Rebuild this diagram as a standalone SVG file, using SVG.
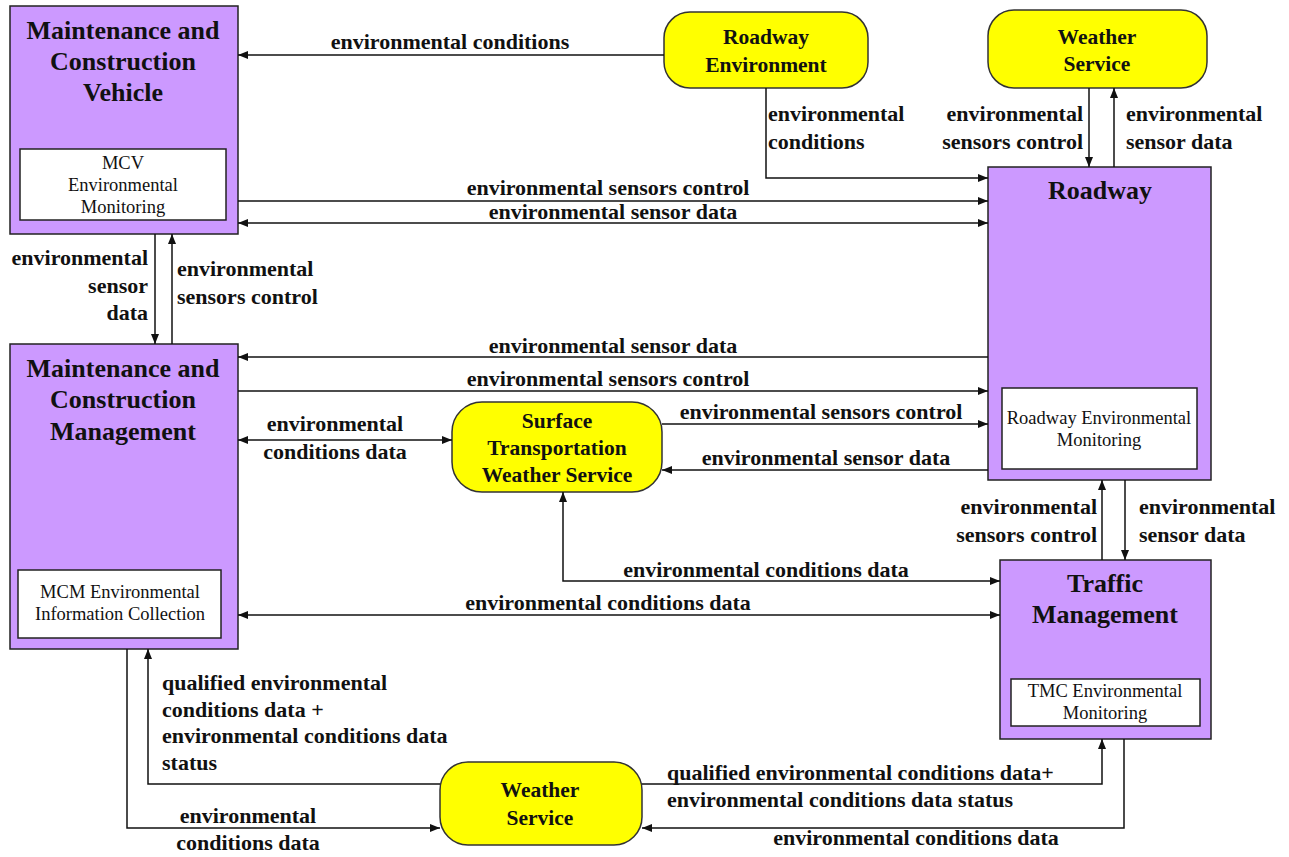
<svg xmlns="http://www.w3.org/2000/svg" width="1289" height="857" viewBox="0 0 1289 857">
<defs>
<marker id="ah" viewBox="0 0 10 10" refX="10" refY="5" markerWidth="10" markerHeight="10" markerUnits="userSpaceOnUse" orient="auto-start-reverse">
<path d="M0,1 L10,5 L0,9 z" fill="#111"/>
</marker>
<style>
.box{fill:#cc99ff;stroke:#222;stroke-width:1.5}
.inner{fill:#fff;stroke:#222;stroke-width:1.5}
.ell{fill:#ffff00;stroke:#333;stroke-width:1.5}
.c{fill:none;stroke:#111;stroke-width:1.5}
.a{marker-end:url(#ah)}
.b{marker-start:url(#ah);marker-end:url(#ah)}
</style>
</defs>

<g id="mcv">
<rect class="box" x="10" y="6" width="228" height="228"/>
<g font-family="Liberation Serif" font-weight="bold" font-size="26" fill="#111" text-anchor="middle">
<text font-family="Liberation Serif" x="123" y="39">Maintenance and</text>
<text font-family="Liberation Serif" x="123" y="70">Construction</text>
<text font-family="Liberation Serif" x="123" y="101">Vehicle</text>
</g>
<rect class="inner" x="20" y="149" width="206" height="71"/>
<g font-family="Liberation Serif" font-size="18.5" fill="#111" text-anchor="middle">
<text font-family="Liberation Serif" x="123" y="169">MCV</text>
<text font-family="Liberation Serif" x="123" y="191">Environmental</text>
<text font-family="Liberation Serif" x="123" y="213">Monitoring</text>
</g>
</g>

<g id="roadway-environment">
<rect class="ell" x="664" y="12" width="204" height="76" rx="26"/>
<g font-family="Liberation Serif" font-weight="bold" font-size="21.5" fill="#111" text-anchor="middle">
<text font-family="Liberation Serif" x="766" y="44">Roadway</text>
<text font-family="Liberation Serif" x="766" y="72">Environment</text>
</g>
</g>

<g id="weather-service-top">
<rect class="ell" x="988" y="10" width="219" height="78" rx="26"/>
<g font-family="Liberation Serif" font-weight="bold" font-size="21.5" fill="#111" text-anchor="middle">
<text font-family="Liberation Serif" x="1097" y="44">Weather</text>
<text font-family="Liberation Serif" x="1097" y="71">Service</text>
</g>
</g>

<g id="roadway">
<rect class="box" x="988" y="167" width="223" height="313"/>
<text font-family="Liberation Serif" font-weight="bold" font-size="26" fill="#111" text-anchor="middle" x="1100" y="199">Roadway</text>
<rect class="inner" x="1002" y="388" width="195" height="81"/>
<g font-family="Liberation Serif" font-size="18.5" fill="#111" text-anchor="middle">
<text font-family="Liberation Serif" x="1099" y="424">Roadway Environmental</text>
<text font-family="Liberation Serif" x="1099" y="446">Monitoring</text>
</g>
</g>

<g id="mcm">
<rect class="box" x="10" y="344" width="228" height="305"/>
<g font-family="Liberation Serif" font-weight="bold" font-size="26" fill="#111" text-anchor="middle">
<text font-family="Liberation Serif" x="123" y="377">Maintenance and</text>
<text font-family="Liberation Serif" x="123" y="408">Construction</text>
<text font-family="Liberation Serif" x="123" y="440">Management</text>
</g>
<rect class="inner" x="18" y="570" width="203" height="68"/>
<g font-family="Liberation Serif" font-size="18.5" fill="#111" text-anchor="middle">
<text font-family="Liberation Serif" x="120" y="598">MCM Environmental</text>
<text font-family="Liberation Serif" x="120" y="620">Information Collection</text>
</g>
</g>

<g id="stws">
<rect class="ell" x="452" y="402" width="210" height="90" rx="30"/>
<g font-family="Liberation Serif" font-weight="bold" font-size="21.5" fill="#111" text-anchor="middle">
<text font-family="Liberation Serif" x="557" y="428">Surface</text>
<text font-family="Liberation Serif" x="557" y="455">Transportation</text>
<text font-family="Liberation Serif" x="557" y="482">Weather Service</text>
</g>
</g>

<g id="traffic-management">
<rect class="box" x="1000" y="560" width="211" height="179"/>
<g font-family="Liberation Serif" font-weight="bold" font-size="26" fill="#111" text-anchor="middle">
<text font-family="Liberation Serif" x="1105" y="592">Traffic</text>
<text font-family="Liberation Serif" x="1105" y="623">Management</text>
</g>
<rect class="inner" x="1011" y="679" width="189" height="47"/>
<g font-family="Liberation Serif" font-size="18.5" fill="#111" text-anchor="middle">
<text font-family="Liberation Serif" x="1105" y="697">TMC Environmental</text>
<text font-family="Liberation Serif" x="1105" y="719">Monitoring</text>
</g>
</g>

<g id="weather-service-bottom">
<rect class="ell" x="440" y="762" width="202" height="83" rx="28"/>
<g font-family="Liberation Serif" font-weight="bold" font-size="21.5" fill="#111" text-anchor="middle">
<text font-family="Liberation Serif" x="540" y="797">Weather</text>
<text font-family="Liberation Serif" x="540" y="825">Service</text>
</g>
</g>

<g id="connectors">
<path class="c a" d="M664,55 H238"/>
<path class="c a" d="M766,88 V178 H988"/>
<path class="c a" d="M1089,88 V167"/>
<path class="c a" d="M1114,167 V88"/>
<path class="c a" d="M238,201 H988"/>
<path class="c b" d="M238,223 H988"/>
<path class="c a" d="M155,234 V344"/>
<path class="c a" d="M172,344 V234"/>
<path class="c a" d="M988,357 H238"/>
<path class="c a" d="M238,391 H988"/>
<path class="c b" d="M238,440 H452"/>
<path class="c a" d="M662,424 H988"/>
<path class="c a" d="M988,470 H662"/>
<path class="c a" d="M1102,560 V480"/>
<path class="c a" d="M1125,480 V560"/>
<path class="c b" d="M563,492 V581 H1000"/>
<path class="c b" d="M238,615 H1000"/>
<path class="c a" d="M440,784 H148 V649"/>
<path class="c a" d="M127,649 V828 H440"/>
<path class="c a" d="M642,784 H1102 V739"/>
<path class="c a" d="M1124,739 V828 H642"/>

<g font-family="Liberation Serif" font-weight="bold" font-size="22" fill="#111">
<text font-family="Liberation Serif" text-anchor="middle" x="450" y="49">environmental conditions</text>
<text font-family="Liberation Serif" x="768" y="121">environmental</text>
<text font-family="Liberation Serif" x="768" y="149">conditions</text>
<text font-family="Liberation Serif" text-anchor="end" x="1083" y="121">environmental</text>
<text font-family="Liberation Serif" text-anchor="end" x="1083" y="149">sensors control</text>
<text font-family="Liberation Serif" x="1126" y="121">environmental</text>
<text font-family="Liberation Serif" x="1126" y="149">sensor data</text>
<text font-family="Liberation Serif" text-anchor="middle" x="608" y="195">environmental sensors control</text>
<text font-family="Liberation Serif" text-anchor="middle" x="613" y="219">environmental sensor data</text>
<text font-family="Liberation Serif" text-anchor="end" x="148" y="265">environmental</text>
<text font-family="Liberation Serif" text-anchor="end" x="148" y="293">sensor</text>
<text font-family="Liberation Serif" text-anchor="end" x="148" y="320">data</text>
<text font-family="Liberation Serif" x="177" y="276">environmental</text>
<text font-family="Liberation Serif" x="177" y="304">sensors control</text>
<text font-family="Liberation Serif" text-anchor="middle" x="613" y="353">environmental sensor data</text>
<text font-family="Liberation Serif" text-anchor="middle" x="608" y="386">environmental sensors control</text>
<text font-family="Liberation Serif" text-anchor="middle" x="335" y="431">environmental</text>
<text font-family="Liberation Serif" text-anchor="middle" x="335" y="459">conditions data</text>
<text font-family="Liberation Serif" text-anchor="middle" x="821" y="419">environmental sensors control</text>
<text font-family="Liberation Serif" text-anchor="middle" x="826" y="465">environmental sensor data</text>
<text font-family="Liberation Serif" text-anchor="end" x="1097" y="514">environmental</text>
<text font-family="Liberation Serif" text-anchor="end" x="1097" y="542">sensors control</text>
<text font-family="Liberation Serif" x="1139" y="514">environmental</text>
<text font-family="Liberation Serif" x="1139" y="542">sensor data</text>
<text font-family="Liberation Serif" text-anchor="middle" x="766" y="577">environmental conditions data</text>
<text font-family="Liberation Serif" text-anchor="middle" x="608" y="610">environmental conditions data</text>
<text font-family="Liberation Serif" x="162" y="690">qualified environmental</text>
<text font-family="Liberation Serif" x="162" y="717">conditions data +</text>
<text font-family="Liberation Serif" x="162" y="743">environmental conditions data</text>
<text font-family="Liberation Serif" x="162" y="770">status</text>
<text font-family="Liberation Serif" text-anchor="middle" x="248" y="823">environmental</text>
<text font-family="Liberation Serif" text-anchor="middle" x="248" y="850">conditions data</text>
<text font-family="Liberation Serif" x="667" y="780">qualified environmental conditions data+</text>
<text font-family="Liberation Serif" x="667" y="807">environmental conditions data status</text>
<text font-family="Liberation Serif" text-anchor="middle" x="916" y="845">environmental conditions data</text>
</g>
</g>
</svg>
